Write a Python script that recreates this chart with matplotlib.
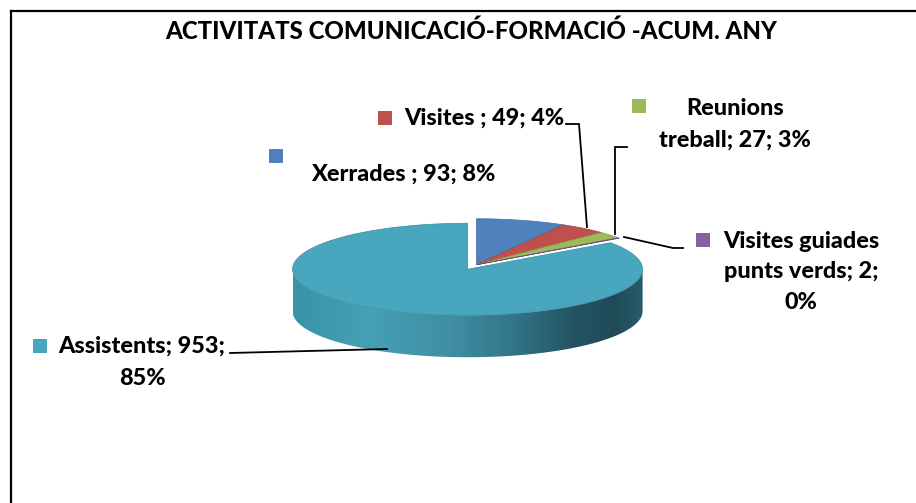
import textwrap
import numpy as np
import matplotlib
matplotlib.use("Agg")
import matplotlib.pyplot as plt
from matplotlib.patches import Polygon, Rectangle
from matplotlib.colors import to_rgb

# ---- data ----
title = "ACTIVITATS COMUNICACIÓ-FORMACIÓ -ACUM. ANY"
categories = ["Xerrades ", "Visites ", "Reunions treball",
              "Visites guiades punts verds", "Assistents"]
values = [93, 49, 27, 2, 953]
pct_labels = ["8%", "4%", "3%", "0%", "85%"]
colors = ["#4F81BD", "#C0504D", "#9BBB59", "#8064A2", "#48A6BF"]

# ---- figure in pixel coordinates ----
W, H = 916, 503
fig = plt.figure(figsize=(W / 100, H / 100), dpi=100)
ax = fig.add_axes([0, 0, 1, 1])
ax.set_xlim(0, W)
ax.set_ylim(H, 0)
ax.axis("off")

FONT = ["Lato", "DejaVu Sans"]
WEIGHT = "black"

# outer frame (left and top edges visible)
ax.plot([10.5, 10.5], [H + 5, 10.5], color="black", lw=1.6, solid_capstyle="projecting")
ax.plot([10.5, W + 5], [10.5, 10.5], color="black", lw=1.6, solid_capstyle="projecting")

ax.text(471, 38.5, title, ha="center", va="baseline", fontsize=17.3,
        fontweight=WEIGHT, family=FONT)

# ---- 3D pie geometry ----
cx, cy = 472.0, 267.0      # pie centre on screen
A, B = 175.0, 46.0         # ellipse semi-axes of the top face
DEPTH = 42.0               # thickness of the disc
EXPLODE = 0.055

vals = np.array(values, dtype=float)
frac = vals / vals.sum()
edges = np.concatenate([[0.0], np.cumsum(frac) * 360.0])  # clockwise from 12 o'clock


def pt(ox, oy, t, dz=0.0):
    r = np.radians(t)
    return ox + A * np.sin(r), oy - B * np.cos(r) + dz


# small slices are pulled out together, the large slice on its own
n = len(values)
group_mid = (edges[0] + edges[n - 1]) / 2.0
big_mid = (edges[n - 1] + edges[n]) / 2.0
offsets = []
for i in range(n):
    m = big_mid if i == n - 1 else group_mid
    r = np.radians(m)
    offsets.append((cx + EXPLODE * A * np.sin(r), cy - EXPLODE * B * np.cos(r)))

# side-wall gradient stops (left -> right across the disc)
stops_u = [0.0, 0.22, 0.45, 0.62, 0.8, 0.92, 1.0]
stops_c = np.array([(58, 146, 168), (70, 160, 182), (64, 142, 163), (52, 118, 138),
                    (36, 84, 100), (32, 74, 88), (40, 92, 108)]) / 255.0

for i in range(n):
    ox, oy = offsets[i]
    t0, t1 = edges[i], edges[i + 1]
    lo, hi = max(t0, 90.0), min(t1, 270.0)
    if hi <= lo:
        continue
    ts = np.linspace(lo, hi, 200)
    top = [pt(ox, oy, t) for t in ts]
    bot = [pt(ox, oy, t, DEPTH) for t in ts[::-1]]
    wall = Polygon(top + bot, closed=True, facecolor="none", edgecolor="none")
    ax.add_patch(wall)
    u = np.linspace(0, 1, 400)
    grad = np.stack([np.interp(u, stops_u, stops_c[:, k]) for k in range(3)], axis=-1)
    grad = np.clip(grad * np.array(to_rgb(colors[i])) / np.array(to_rgb(colors[-1])), 0, 1)
    img = ax.imshow(grad[None, :, :], extent=(ox - A, ox + A, oy + B + DEPTH + 2, oy - B - 2),
                    aspect="auto", interpolation="bilinear", zorder=2)
    img.set_clip_path(wall)

ax.set_xlim(0, W)
ax.set_ylim(H, 0)

# top faces
for i in range(n):
    ox, oy = offsets[i]
    t0, t1 = edges[i], edges[i + 1]
    ts = np.linspace(t0, t1, max(int((t1 - t0) * 2), 2) + 1)
    xy = [(ox, oy)] + [pt(ox, oy, t) for t in ts]
    edge = np.array(to_rgb(colors[i])) * 0.85
    ax.add_patch(Polygon(xy, closed=True, facecolor=colors[i], edgecolor=edge,
                         lw=0.5, zorder=3))

# ---- data labels ----
wrap_widths = [40, 40, 15, 15, 16]
texts = [f"{c}; {v}; {p}" for c, v, p in zip(categories, values, pct_labels)]

# marker centre, text centre x, first baseline, line spacing
label_layout = [
    ((276, 156), 403, 181, 0),
    ((384.5, 118), 484, 125, 0),
    ((638.5, 106), 735, 115, 32),
    ((702.5, 240), 801, 248, 30.5),
    ((40, 346), 142, 353, 32),
]

SQ = 14
LFS = 16.8
for i, txt in enumerate(texts):
    (mx, my), tx, by, sp = label_layout[i]
    ax.add_patch(Rectangle((mx - SQ / 2, my - SQ / 2), SQ, SQ,
                           facecolor=colors[i], edgecolor="none", zorder=4))
    for k, line in enumerate(textwrap.wrap(txt, wrap_widths[i])):
        ax.text(tx, by + k * sp, line, ha="center", va="baseline", fontsize=LFS,
                fontweight=WEIGHT, family=FONT, zorder=5)

# leader lines
leaders = [
    [(566, 124), (579, 124), (587, 227)],
    [(627, 147), (615, 147), (615, 234)],
    [(683, 248), (673, 248), (624, 237)],
    [(230, 353), (387, 349)],
]
for line in leaders:
    xs, ys = zip(*line)
    ax.plot(xs, ys, color="black", lw=1.3, zorder=6, solid_joinstyle="miter")

fig.savefig("out.png", dpi=100)
